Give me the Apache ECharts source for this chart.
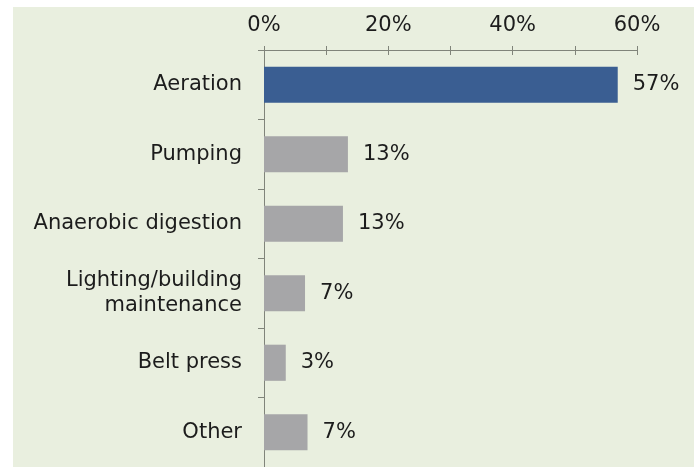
<!DOCTYPE html>
<html>
<head>
<meta charset="utf-8">
<script src="https://cdn.jsdelivr.net/npm/echarts@6/dist/echarts.min.js"></script>
<style>
html,body{margin:0;padding:0;background:#ffffff;width:694px;height:467px;overflow:hidden;}
#chart{position:absolute;left:13px;top:7px;width:681px;height:460px;}
</style>
</head>
<body>
<div id="chart"></div>
<script>
const categories = ['Aeration', 'Pumping', 'Anaerobic digestion', 'Lighting/building\nmaintenance', 'Belt press', 'Other'];
const values = [56.9, 13.5, 12.7, 6.6, 3.5, 7.0];
const valueLabels = ['57%', '13%', '13%', '7%', '3%', '7%'];
const barColors = ['#3a5e92', '#a6a6a8', '#a6a6a8', '#a6a6a8', '#a6a6a8', '#a6a6a8'];
const axisMin = 0, axisMax = 60, axisStep = 10;

const chart = echarts.init(document.getElementById('chart'));
const font = 'DejaVu Sans';
const textColor = '#1c1c1c';
const axisColor = '#80847a';

chart.setOption({
  backgroundColor: '#e9efdf',
  animation: false,
  grid: { left: 251, right: 57, top: 43, bottom: 0, containLabel: false },
  xAxis: [{
    type: 'value', position: 'top', min: axisMin, max: axisMax, interval: axisStep,
    axisLine: { show: true, lineStyle: { color: axisColor, width: 1 } },
    axisTick: { show: true, inside: false, length: 4, lineStyle: { color: axisColor } },
    splitLine: { show: false },
    axisLabel: {
      margin: 14, color: textColor, fontFamily: font, fontSize: 21,
      formatter: v => (v % 20 === 0 ? v + '%' : '')
    }
  }, {
    type: 'value', position: 'top', min: axisMin, max: axisMax, interval: axisStep, offset: 0,
    axisLine: { show: false },
    axisTick: { show: true, inside: true, length: 5, lineStyle: { color: axisColor } },
    splitLine: { show: false },
    axisLabel: { show: false }
  }],
  yAxis: {
    type: 'category', inverse: true, data: categories,
    axisLine: { show: true, lineStyle: { color: axisColor, width: 1 } },
    axisTick: { show: true, length: 6, lineStyle: { color: axisColor } },
    axisLabel: { margin: 22, color: textColor, fontFamily: font, fontSize: 21, lineHeight: 25, align: 'right' }
  },
  series: [{
    type: 'bar', xAxisIndex: 0,
    data: values.map((v, i) => ({ value: v, itemStyle: { color: barColors[i] } })),
    barCategoryGap: '48%',
    label: {
      show: true, position: 'right', distance: 15, color: textColor, fontFamily: font, fontSize: 21,
      formatter: p => valueLabels[p.dataIndex]
    }
  }]
});
</script>
</body>
</html>
